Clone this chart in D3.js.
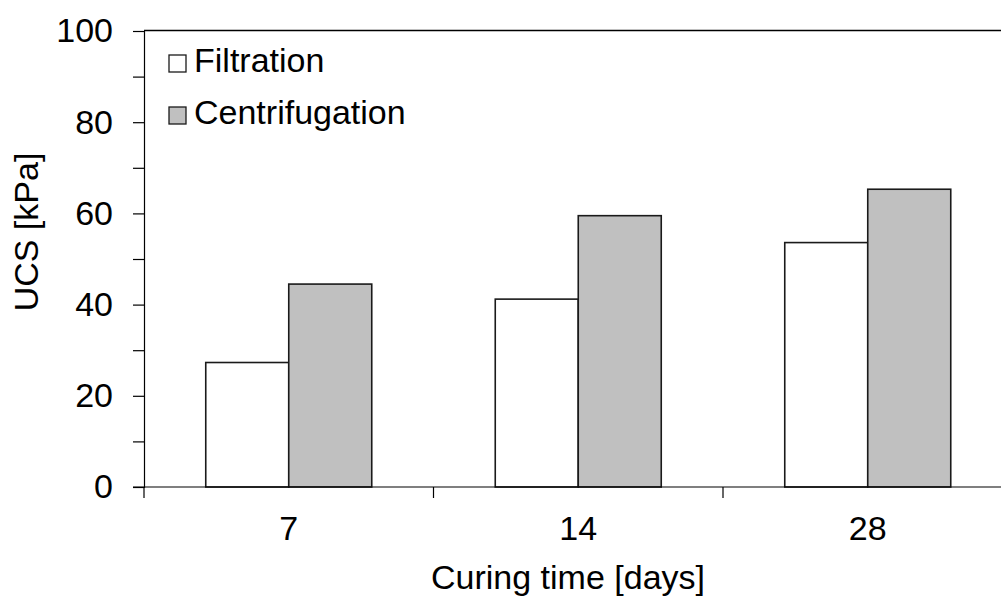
<!DOCTYPE html>
<html>
<head>
<meta charset="utf-8">
<script src="https://cdn.jsdelivr.net/npm/d3@7"></script>
<style>
  html, body { margin: 0; padding: 0; background: #fff; }
  svg { display: block; }
  text { font-family: "Liberation Sans", Arial, sans-serif; fill: #000; }
</style>
</head>
<body>
<svg id="chart" width="1001" height="596"></svg>
<script>
const categories = ["7", "14", "28"];
const seriesNames = ["Filtration", "Centrifugation"];
const filtration = [27.3, 41.2, 53.6];
const centrifugation = [44.5, 59.5, 65.3];
const yTicks = [0, 10, 20, 30, 40, 50, 60, 70, 80, 90, 100];
const yLabels = [0, 20, 40, 60, 80, 100];
const seriesFill = ["#ffffff", "#c0c0c0"];

(function () {
const svg = d3.select("#chart");
const W = 1001;
const mLeft = 144, mBottom = 487, mTop = 31;
const step = 289.5;
const fs = "34px";

const x = d3.scaleBand().domain(categories).range([mLeft, mLeft + step * categories.length]).padding(0);
const xs = d3.scaleBand().domain(seriesNames).range([0, x.bandwidth()]).paddingInner(0).paddingOuter(0.744);
const y = d3.scaleLinear().domain([0, 100]).range([mBottom, mTop]);

const data = categories.map((c, i) => ({ cat: c, values: [filtration[i], centrifugation[i]] }));

// bars
const g = svg.append("g");
data.forEach(d => {
  seriesNames.forEach((s, j) => {
    g.append("rect")
      .attr("x", x(d.cat) + xs(s))
      .attr("y", y(d.values[j]))
      .attr("width", xs.bandwidth())
      .attr("height", y(0) - y(d.values[j]))
      .attr("fill", seriesFill[j])
      .attr("stroke", "#1a1a1a")
      .attr("stroke-width", 1.6);
  });
});

// top border of plot area
svg.append("line")
  .attr("x1", mLeft).attr("x2", W)
  .attr("y1", y(100) - 0.5).attr("y2", y(100) - 0.5)
  .attr("stroke", "#000").attr("stroke-width", 1.5);

// y axis
const yAxis = d3.axisLeft(y)
  .tickValues(yTicks)
  .tickSize(11)
  .tickPadding(20)
  .tickFormat(v => yLabels.includes(v) ? String(v) : "");
const ya = svg.append("g").attr("transform", `translate(${mLeft},0)`).call(yAxis);
ya.select(".domain").attr("stroke", "#000").attr("stroke-width", 1.2);
ya.selectAll(".tick line").attr("stroke", "#000").attr("stroke-width", 1.2);
ya.selectAll(".tick text")
  .style("font-family", "'Liberation Sans', Arial, sans-serif")
  .style("font-size", fs).attr("fill", "#000");

// x axis baseline
svg.append("line")
  .attr("x1", mLeft - 11).attr("x2", W)
  .attr("y1", mBottom).attr("y2", mBottom)
  .attr("stroke", "#000").attr("stroke-width", 1.2);

// x boundary ticks
const bounds = categories.map(c => x(c)).concat([x.range()[1]]);
svg.selectAll("line.xtick").data(bounds).enter().append("line")
  .attr("class", "xtick")
  .attr("x1", d => d).attr("x2", d => d)
  .attr("y1", mBottom).attr("y2", mBottom + 11)
  .attr("stroke", "#000").attr("stroke-width", 1.2);

// x labels
svg.selectAll("text.xlab").data(categories).enter().append("text")
  .attr("class", "xlab")
  .attr("x", d => x(d) + x.bandwidth() / 2)
  .attr("y", 540)
  .attr("text-anchor", "middle")
  .style("font-size", fs)
  .text(d => d);

// axis titles
svg.append("text")
  .attr("x", 568).attr("y", 589)
  .attr("text-anchor", "middle")
  .style("font-size", fs)
  .text("Curing time [days]");

svg.append("text")
  .attr("transform", "translate(38,232) rotate(-90)")
  .attr("text-anchor", "middle")
  .style("font-size", fs)
  .text("UCS [kPa]");

// legend
const legY = [55, 107];
seriesNames.forEach((s, j) => {
  svg.append("rect")
    .attr("x", 169).attr("y", legY[j])
    .attr("width", 17).attr("height", 17)
    .attr("fill", seriesFill[j])
    .attr("stroke", "#1a1a1a").attr("stroke-width", 1.3);
  svg.append("text")
    .attr("x", 194).attr("y", legY[j] + 17)
    .style("font-size", fs)
    .text(s);
});
})();
</script>
</body>
</html>
